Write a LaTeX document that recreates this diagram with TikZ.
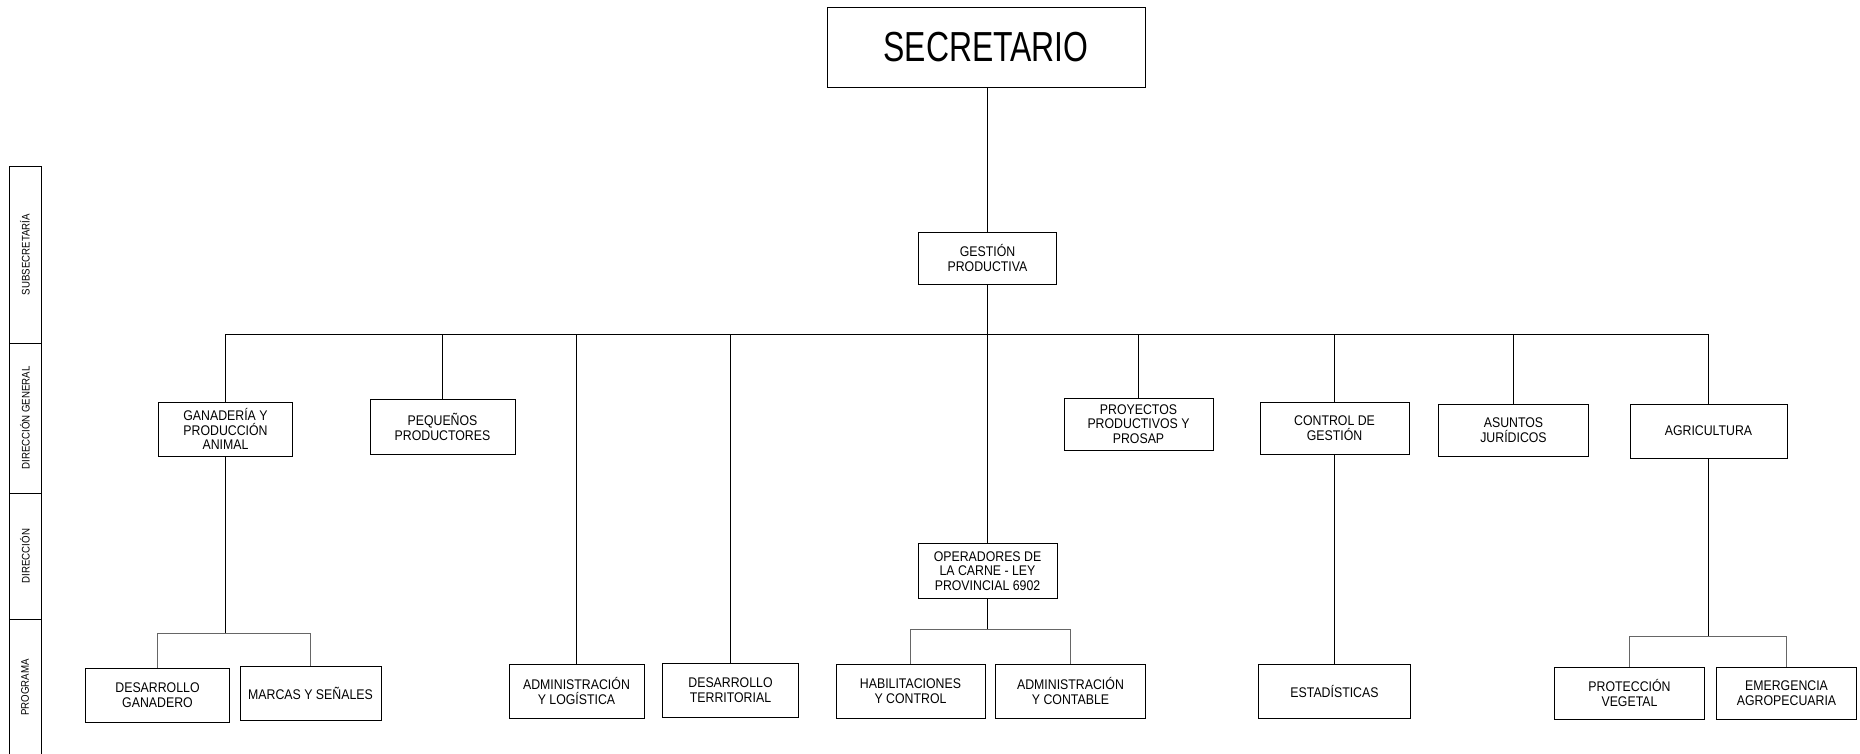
\documentclass[tikz,border=0pt]{standalone}
\usepackage{fontspec}
\setmainfont{Liberation Sans}[FakeStretch=0.88]
\newfontfamily\titlefont{Liberation Sans}[FakeStretch=0.76]
\usetikzlibrary{positioning}

\begin{document}
\begin{tikzpicture}[x=1pt, y=-1pt, line width=1pt,
    box/.style={draw, rectangle, align=center, inner sep=2pt, font=\fontsize{14}{14.5}\selectfont},
    band/.style={draw, rectangle, rotate=90, minimum height=32pt, inner sep=0pt, font=\fontsize{11}{12}\selectfont},
    sub/.style={draw=black!60}]
  \useasboundingbox (0,0) rectangle (1860,753);

  % franja de niveles
  \node[band, minimum width=177pt] (nsub)  at (25,254.5) {SUBSECRETARÍA};
  \node[band, minimum width=150pt] (ndg)   at (25,418)   {DIRECCIÓN GENERAL};
  \node[band, minimum width=126pt] (ndir)  at (25,556)   {DIRECCIÓN};
  \node[band, minimum width=137pt] (nprog) at (25,687.5) {PROGRAMA};

  \node[box, minimum width=318pt, minimum height=80pt, font=\titlefont\fontsize{42}{44}\selectfont] (sec) at (986,47) {SECRETARIO};
  \node[box, minimum width=138pt, minimum height=52pt] (gp) at (987.5,258) {GESTIÓN\\PRODUCTIVA};

  % direcciones generales
  \node[box, minimum width=134pt, minimum height=54pt] (gan)  at (225.5,429)  {GANADERÍA Y\\PRODUCCIÓN\\ANIMAL};
  \node[box, minimum width=145pt, minimum height=55pt] (peq)  at (442.5,427)  {PEQUEÑOS\\PRODUCTORES};
  \node[box, minimum width=149pt, minimum height=52pt] (proy) at (1138.5,424) {PROYECTOS\\PRODUCTIVOS Y\\PROSAP};
  \node[box, minimum width=149pt, minimum height=52pt] (ctrl) at (1334.5,428) {CONTROL DE\\GESTIÓN};
  \node[box, minimum width=150pt, minimum height=52pt] (jur)  at (1513.5,430) {ASUNTOS\\JURÍDICOS};
  \node[box, minimum width=157pt, minimum height=54pt] (agr)  at (1708.5,431) {AGRICULTURA};

  \node[box, minimum width=139pt, minimum height=55pt] (oper) at (987.5,571) {OPERADORES DE\\LA CARNE - LEY\\PROVINCIAL 6902};

  % programas
  \node[box, minimum width=144pt, minimum height=54pt] (desg) at (157.5,695)  {DESARROLLO\\GANADERO};
  \node[box, minimum width=141pt, minimum height=54pt] (marc) at (310.5,693)  {MARCAS Y SEÑALES};
  \node[box, minimum width=135pt, minimum height=54pt] (adm)  at (576.5,691)  {ADMINISTRACIÓN\\Y LOGÍSTICA};
  \node[box, minimum width=136pt, minimum height=54pt] (terr) at (730.5,690)  {DESARROLLO\\TERRITORIAL};
  \node[box, minimum width=149pt, minimum height=54pt] (hab)  at (910.5,691)  {HABILITACIONES\\Y CONTROL};
  \node[box, minimum width=150pt, minimum height=54pt] (cont) at (1070.5,691) {ADMINISTRACIÓN\\Y CONTABLE};
  \node[box, minimum width=152pt, minimum height=54pt] (est)  at (1334.5,691) {ESTADÍSTICAS};
  \node[box, minimum width=150pt, minimum height=52pt] (veg)  at (1629.5,693) {PROTECCIÓN\\VEGETAL};
  \node[box, minimum width=140pt, minimum height=52pt] (emer) at (1786.5,693) {EMERGENCIA\\AGROPECUARIA};

  \coordinate (bus) at (987.5,334.5);
  \coordinate (ganbus)  at (gan |- 0,633.5);
  \coordinate (operbus) at (oper |- 0,629.5);
  \coordinate (agrbus)  at (agr |- 0,636.5);

  \draw (sec.south -| gp) -- (gp);
  \draw (gp) -- (oper);
  \draw (gan.north) |- (bus) -| (agr.north);
  \foreach \n in {peq, adm, terr, proy, ctrl, jur}
    \draw (\n.north) -- (\n.north |- bus);
  \draw (ctrl) -- (est);

  \draw (gan) -- (ganbus);
  \draw[sub] (desg.north) |- (ganbus) -| (marc.north);
  \draw (oper) -- (operbus);
  \draw[sub] (hab.north) |- (operbus) -| (cont.north);
  \draw (agr) -- (agrbus);
  \draw[sub] (veg.north) |- (agrbus) -| (emer.north);
\end{tikzpicture}
\end{document}
